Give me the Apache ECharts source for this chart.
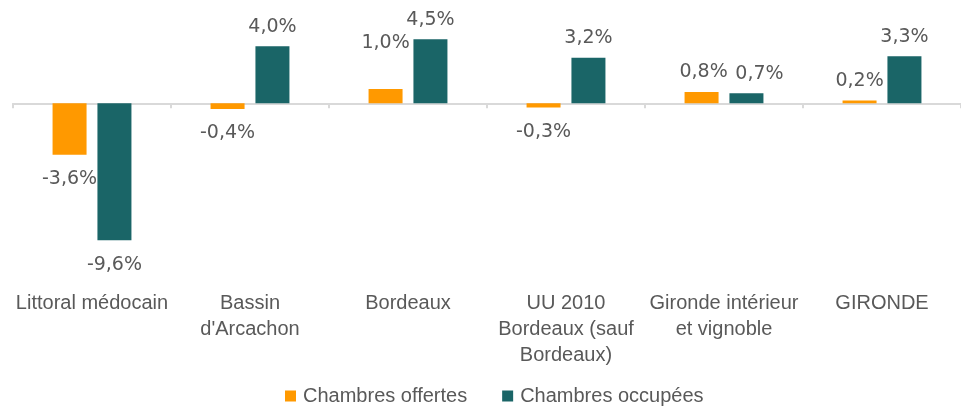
<!DOCTYPE html>
<html>
<head>
<meta charset="utf-8">
<script src="https://cdn.jsdelivr.net/npm/echarts@6/dist/echarts.min.js"></script>
<style>
  html, body { margin: 0; padding: 0; background: #fff; }
  #chart { width: 961px; height: 406px; }
</style>
</head>
<body>
<div id="chart"></div>
<script>
// categories (line breaks as on the original axis)
var territoires = ['Littoral médocain', "Bassin\nd'Arcachon", 'Bordeaux', 'UU 2010\nBordeaux (sauf\nBordeaux)', 'Gironde intérieur\net vignoble', 'GIRONDE'];
// evolution in %
var chambresOffertes = [-3.6, -0.4, 1.0, -0.3, 0.8, 0.2];
var chambresOccupees = [-9.6, 4.0, 4.5, 3.2, 0.7, 3.3];

var grisTexte = '#595959';

function fmt(v) {
  return v.toFixed(1).replace('.', ',') + '%';
}

// positive values get their label above, negative ones below;
// a few labels were nudged in the original to avoid collisions
function avecLabels(values, decalages) {
  return values.map(function (v, i) {
    var lab = v < 0 ? { position: 'bottom', distance: 15 } : { position: 'top', distance: 10 };
    if (decalages && decalages[i]) lab.offset = decalages[i];
    return { value: v, label: lab };
  });
}

var myChart = echarts.init(document.getElementById('chart'));

var option = {
  animation: false,
  legend: {
    data: ['Chambres offertes', 'Chambres occupées'],
    left: 280,
    top: 381,
    icon: 'rect',
    itemWidth: 11,
    itemHeight: 11,
    itemGap: 35,
    textStyle: { color: grisTexte, fontSize: 20, fontFamily: 'Liberation Sans', padding: [0, 0, 0, 2] }
  },
  grid: { left: 13, right: 0, top: 32, height: 214 },
  xAxis: [
    {
      type: 'category',
      data: territoires,
      position: 'bottom',
      axisLine: { show: false, onZero: false },
      axisTick: { show: false },
      axisLabel: {
        interval: 0,
        margin: 44,
        color: grisTexte,
        fontSize: 20,
        lineHeight: 26,
        fontFamily: 'Liberation Sans'
      }
    },
    {
      type: 'category',
      data: territoires,
      position: 'bottom',
      axisLine: { show: true, onZero: true, lineStyle: { color: '#d9d9d9', width: 2 } },
      axisTick: { show: true, length: 5, lineStyle: { color: '#d9d9d9', width: 2 } },
      axisLabel: { show: false }
    }
  ],
  yAxis: {
    type: 'value',
    min: -10,
    max: 5,
    show: false,
    splitLine: { show: false }
  },
  series: [
    {
      name: 'Chambres offertes',
      type: 'bar',
      xAxisIndex: 0,
      barWidth: 34,
      barGap: '32%',
      itemStyle: { color: '#FF9900' },
      label: {
        show: true,
        color: grisTexte,
        fontSize: 19,
        fontFamily: 'DejaVu Sans',
        formatter: function (p) { return fmt(p.value); }
      },
      data: avecLabels(chambresOffertes, { 2: [0, -27], 4: [2, 0] })
    },
    {
      name: 'Chambres occupées',
      type: 'bar',
      xAxisIndex: 0,
      barWidth: 34,
      barGap: '32%',
      itemStyle: { color: '#1A6567' },
      label: {
        show: true,
        color: grisTexte,
        fontSize: 19,
        fontFamily: 'DejaVu Sans',
        formatter: function (p) { return fmt(p.value); }
      },
      data: avecLabels(chambresOccupees, { 4: [13, 0] })
    }
  ]
};

myChart.setOption(option);
</script>
</body>
</html>
